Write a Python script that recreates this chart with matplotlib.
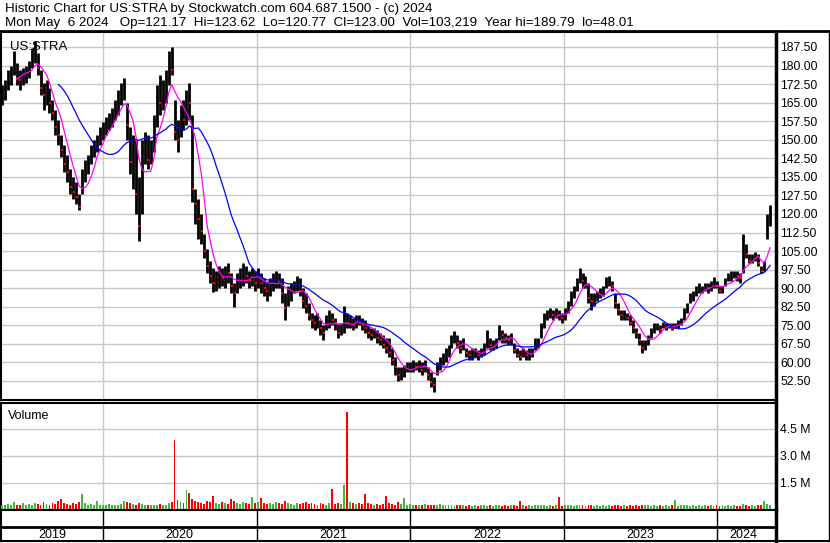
import matplotlib
matplotlib.use("Agg")
import matplotlib.pyplot as plt
import matplotlib.dates as mdates
import numpy as np
import pandas as pd

plt.rcParams['font.family'] = ['Liberation Sans', 'DejaVu Sans']

# weekly bars for US:STRA, May 2019 - May 6 2024
lo = [164, 166, 170, 172, 176, 172, 170, 172, 173, 175,
      179, 181, 176, 168, 162, 164, 161, 158, 152, 148,
      143, 137, 133, 128, 126, 124, 121.5, 128, 133, 136,
      140, 143, 145, 148, 150, 152, 154, 155, 158, 160,
      164, 166, 150, 136, 130, 120, 109, 120, 140, 138,
      140, 145, 155, 160, 162, 165, 172, 176, 150, 145,
      151, 154, 156, 158, 125, 116, 110, 108, 102, 96,
      92, 88.5, 89, 90, 91, 90, 92, 88, 82.5, 88,
      90, 91, 92, 90, 91, 89, 90, 88, 87, 85,
      87, 89, 90, 90, 84, 77, 83, 85, 88, 89,
      87, 82, 80, 77, 74, 73, 74, 71, 69, 73,
      74, 75, 73, 70, 71, 72, 74, 74, 73, 74,
      75, 73, 72, 70, 69, 70, 68, 67, 66, 64,
      62, 59, 55, 52.5, 53, 54, 56, 56, 56, 57,
      56, 55, 56, 53, 50, 48, 55, 57, 59, 60,
      62, 66, 68, 66, 64, 65, 62, 61, 61, 62,
      61, 62, 63, 66, 65, 65, 66, 69, 68, 68,
      67, 67, 64, 62, 61, 62, 61, 61, 62, 65,
      66, 70, 74, 77, 78, 77, 78, 77, 76, 77,
      80, 83, 86, 89, 92, 90, 90, 84, 81, 83,
      85, 86, 87, 90, 91, 89, 82, 79, 77, 77,
      77, 75, 72, 70, 67, 64, 65, 67, 70, 72,
      73, 72, 74, 73, 74, 73, 74, 74, 75, 77,
      80, 84, 85, 87, 88, 88, 89, 88, 89, 90,
      90, 88, 88, 91, 93, 93, 94, 93, 92, 96,
      102, 100, 100, 101, 99, 96, 97, 110, 115]
hi = [172, 174, 178, 180, 186, 181, 178, 179, 180, 182,
      187, 189.8, 185, 178, 173, 174, 171, 166, 162, 158,
      152, 148, 144, 138, 135, 133, 128, 138, 142, 144,
      148, 150, 152, 155, 157, 159, 161, 163, 166, 170,
      173, 175, 165, 155, 152, 150, 135, 150, 153, 152,
      150, 160, 172, 176, 174, 178, 186, 187.5, 166, 158,
      164, 166, 170, 173, 160, 130, 126, 120, 112, 106,
      101, 98, 97, 99, 98, 99, 100, 96, 92, 96,
      98, 100, 99, 97, 98, 97, 98, 96, 94, 93,
      94, 96, 97, 96, 94, 88, 91, 92, 93, 95,
      94, 90, 88, 84, 80, 79, 80, 77, 75, 79,
      81, 80, 78, 76, 76, 83, 80, 79, 78, 79,
      79, 78, 77, 75, 74, 74, 73, 72, 71, 70,
      70, 66, 62, 58, 58, 59, 60, 60, 61, 60,
      61, 60, 61, 58, 56, 54, 60, 62, 64, 66,
      67, 71, 72.5, 71, 69, 70, 66, 65, 66, 66,
      65, 66, 68, 73, 70, 69, 70, 75, 73, 72,
      71, 72, 68, 66, 65, 66, 65, 66, 66, 70,
      70, 76, 80, 81, 82, 81, 82, 81, 80, 82,
      85, 89, 91, 94, 98, 96, 95, 92, 88, 88,
      89, 90, 91, 94.5, 95, 93, 88, 84, 81, 81,
      80, 79, 77, 74, 72, 69, 69, 71, 74, 76,
      76, 75, 76.5, 76, 76, 76, 76, 77, 78, 82,
      84, 88, 89, 91, 92, 91, 92, 92, 93, 94.5,
      93, 91, 91, 94, 96, 97, 97, 97, 96, 112,
      108, 104, 104, 104.5, 104, 99, 101, 120, 123.6]
cl = [168, 171, 175, 177, 180, 175, 174, 177, 178, 180,
      184, 186, 179, 171, 168, 170, 165, 161, 155, 152,
      146, 140, 137, 131, 129, 127, 123, 135, 139, 141,
      146, 148, 150, 152, 155, 157, 158, 160, 163, 166,
      170, 170, 156, 141, 145, 128, 115, 145, 148, 142,
      145, 157, 168, 165, 170, 172, 181, 178, 153, 150,
      160, 158, 166, 165, 130, 124, 118, 113, 105, 99,
      95, 92, 93, 96, 94, 97, 96, 91, 88, 93,
      94, 97, 95, 93, 95, 92, 96, 92, 90, 89,
      92, 93, 95, 93, 88, 82, 88, 89, 91, 92,
      89, 85, 83, 79, 77, 76, 76, 74, 72, 77,
      78, 77, 76, 72, 73, 80, 76, 76, 75, 77,
      76, 75, 74, 72, 71, 72, 70, 69, 67, 66,
      64, 61, 58, 55, 56, 57, 58, 58, 59, 58,
      59, 57, 60, 55, 52, 51, 58, 60, 62, 64,
      65, 69, 70, 68, 66, 67, 64, 63, 64, 64,
      63, 64, 66, 70, 67, 67, 68, 72, 71, 70,
      69, 70, 65, 63, 62, 64, 63, 64, 64, 68,
      68, 74, 78, 79, 80, 79, 80, 79, 78, 80,
      83, 87, 89, 92, 95, 93, 93, 86, 85, 86,
      87, 88, 89, 92, 93, 91, 84, 81, 79, 79,
      78, 76, 74, 72, 69, 66, 67, 69, 72, 74,
      75, 73, 75, 75, 75, 74, 75, 76, 77, 80,
      83, 87, 88, 89, 90, 90, 91, 90, 91, 93,
      91, 89, 90, 93, 95, 95, 96, 95, 94, 108,
      104, 101, 102, 103, 100, 97, 99, 116, 123]
# average daily volume per week, millions
vol = [.30, .25, .35, .28, .45, .30, .25, .40, .30, .35,
       .30, .40, .35, .30, .45, .35, .30, .40, .35, .50,
       .63, .40, .35, .30, .40, .35, .45, .90, .40, .30,
       .35, .30, .50, .30, .25, .30, .35, .30, .25, .30,
       .35, .50, .45, .40, .35, .30, .40, .35, .30, .25,
       .30, .25, .30, .35, .30, .25, .40, .45, 3.90, .55,
       .45, .40, 1.10, .95, .60, .50, .45, .40, .35, .50,
       .45, .75, .40, .35, .45, .40, .35, .60, .50, .40,
       .35, .45, .40, .35, .70, .40, .45, .65, .40, .35,
       .40, .35, .45, .40, .35, .50, .40, .35, .30, .40,
       .35, .40, .45, .35, .40, .35, .30, .40, .35, .30,
       .40, 1.15, .35, .40, .35, 1.40, 5.44, .45, .40, .35,
       .40, .35, .90, .40, .35, .30, .35, .30, .35, .80,
       .40, .35, .30, .45, .35, .65, .30, .35, .25, .30,
       .30, .25, .35, .30, .25, .30, .25, .35, .30, .25,
       .30, .25, .20, .25, .30, .25, .20, .25, .20, .25,
       .20, .25, .30, .20, .25, .20, .30, .25, .20, .25,
       .20, .25, .30, .20, .50, .25, .20, .25, .20, .30,
       .25, .30, .25, .20, .25, .20, .25, .70, .20, .25,
       .30, .25, .20, .25, .30, .25, .20, .25, .30, .20,
       .25, .20, .25, .20, .25, .20, .30, .25, .20, .25,
       .20, .25, .20, .25, .20, .25, .30, .25, .20, .25,
       .20, .25, .20, .25, .20, .25, .55, .20, .25, .30,
       .25, .20, .25, .20, .25, .20, .25, .20, .25, .20,
       .25, .20, .25, .20, .25, .20, .25, .20, .20, .35,
       .25, .20, .25, .20, .25, .30, .50, .35, .30]

price_ticks = np.arange(52.5, 188, 7.5)
vol_ticks = [1.5, 3.0, 4.5]
years = [2019, 2020, 2021, 2022, 2023, 2024]
title = "Historic Chart for US:STRA by Stockwatch.com 604.687.1500 - (c) 2024"
quote = ("Mon May  6 2024   Op=121.17  Hi=123.62  Lo=120.77  Cl=123.00  "
         "Vol=103,219  Year hi=189.79  lo=48.01")

dates = pd.date_range("2019-05-06", "2024-05-06", periods=len(cl))
x = mdates.date2num(dates)
cl = np.array(cl)
vol = np.array(vol)
up = np.r_[True, cl[1:] >= cl[:-1]]

W, H = 830, 543
fig = plt.figure(figsize=(W / 100, H / 100), dpi=100)

def box(l, t, r, b):
    return [l / W, 1 - b / H, (r - l) / W, (b - t) / H]

ax = fig.add_axes(box(1, 32, 776, 400))
axv = fig.add_axes(box(1, 403, 776, 510), sharex=ax)
axd = fig.add_axes(box(1, 510, 776, 541), sharex=ax)

year_starts = mdates.date2num([pd.Timestamp(f"{y}-01-01") for y in years[1:]])
grid_c = '#c8c8c8'

# price panel
ax.vlines(x, lo, hi, color='black', lw=2.0, zorder=3)
ax.plot(x[~up] + 1.5, cl[~up], 's', color='red', ms=1.7, mew=0, zorder=4)
s = pd.Series(cl)
ax.plot(x, s.rolling(6).mean(), color='#ff00ff', lw=0.9, zorder=5)
ax.plot(x, s.rolling(20).mean(), color='#0000ff', lw=0.9, zorder=5)
ax.set_ylim(44.8, 193.56)
ax.set_yticks(price_ticks)
ax.set_yticklabels([f"{v:.2f}" for v in price_ticks])
ax.text(0.012, 0.975, "US:STRA", transform=ax.transAxes, fontsize=9.5,
        va='top', ha='left')

# volume panel
axv.bar(x[~up], vol[~up], width=4.5, color='#ff0000', zorder=3)
axv.bar(x[up], vol[up], width=4.5, color='#46b446', zorder=3)
axv.set_ylim(0, 5.94)
axv.set_yticks(vol_ticks)
axv.set_yticklabels([f"{v:.1f} M" for v in vol_ticks])
axv.text(0.009, 0.93, "Volume", transform=axv.transAxes, fontsize=9,
         va='top', ha='left')

x_left = mdates.date2num(pd.Timestamp("2019-05-04"))
x_right = mdates.date2num(pd.Timestamp("2024-05-20"))
for a in (ax, axv):
    a.set_xlim(x_left, x_right)
    a.set_xticks(year_starts)
    a.grid(True, color=grid_c, lw=1, zorder=0)
    a.set_axisbelow(True)
    a.yaxis.tick_right()
    a.tick_params(axis='y', length=0, pad=3, labelsize=8.8)
    a.tick_params(axis='x', length=0, labelbottom=False)
    for sp in a.spines.values():
        sp.set_linewidth(1.5)
    a.spines['right'].set_linewidth(2.5)

# date strip
axd.set_ylim(0, 1)
axd.set_yticks([])
axd.tick_params(axis='x', length=0, labelbottom=False)
axd.axhline(0.45, color='black', lw=2)
for xs in year_starts:
    axd.axvline(xs, color='black', lw=1)
edges = np.r_[x_left, year_starts, x[-1]]
for k, y in enumerate(years):
    axd.text((edges[k] + edges[k + 1]) / 2, 0.2, str(y), ha='center',
             va='center', fontsize=9)
for sp in axd.spines.values():
    sp.set_linewidth(1.5)
axd.spines['right'].set_linewidth(2.5)

# header
fig.text(5 / W, 1 - 9 / H, title, fontsize=9.6, va='center', ha='left')
fig.text(5 / W, 1 - 23 / H, quote, fontsize=9.6, va='center', ha='left')
fig.add_artist(plt.Line2D([0, 1], [1 - 31 / H, 1 - 31 / H], color='black', lw=2))
fig.add_artist(plt.Line2D([829 / W, 829 / W], [1 - 31 / H, 1 - 541 / H], color='black', lw=1))
fig.add_artist(plt.Line2D([776 / W, 1], [1 - 541 / H, 1 - 541 / H], color='black', lw=1.5))

fig.savefig("out.png", dpi=100)
